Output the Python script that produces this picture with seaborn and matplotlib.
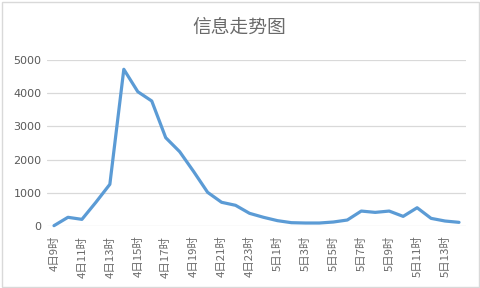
import matplotlib
matplotlib.use("Agg")
import matplotlib.pyplot as plt
import seaborn as sns
import pandas as pd
from matplotlib.patches import Rectangle

categories = (["4日%d时" % h for h in range(9, 24)] +
              ["5日%d时" % h for h in range(0, 15)])
values = [10, 262, 200, 714, 1256, 4720, 4045, 3765, 2660, 2238,
          1640, 1014, 714, 623, 382, 262, 161, 100, 90, 90,
          120, 180, 450, 410, 450, 290, 550, 230, 150, 110]
title = "信息走势图"
yticks = [0, 1000, 2000, 3000, 4000, 5000]

sns.set_theme(style="white")
plt.rcParams['font.family'] = ['Noto Sans CJK SC', 'DejaVu Sans']

df = pd.DataFrame({"idx": range(len(categories)), "v": values})

fig = plt.figure(figsize=(4.8, 2.88), dpi=100)
ax = fig.add_axes([47/480, 1-226/288, (466-47)/480, (226-60)/288])

for y in yticks:
    ax.axhline(y, color="#D9D9D9", lw=0.9, zorder=0)

sns.lineplot(data=df, x="idx", y="v", ax=ax, color="#5B9BD5", lw=2.3,
             zorder=3, clip_on=False)

ax.set_xlim(-0.5, len(categories) - 0.5)
ax.set_ylim(0, 5000)
ax.set_yticks(yticks)
ax.set_yticklabels([str(y) for y in yticks], fontsize=8, color="#595959",
                   family=['DejaVu Sans'])
ax.set_xticks(range(0, len(categories), 2))
ax.set_xticklabels(categories[::2], rotation=90, fontsize=8.2,
                   color="#6A6A6A", va="top", ha="center")
ax.tick_params(axis="both", length=0, pad=4)
ax.tick_params(axis="x", pad=7)
ax.set_xlabel("")
ax.set_ylabel("")
for s in ax.spines.values():
    s.set_visible(False)

fig.text(239/480, 1-27/288, title, ha="center", va="center",
         fontsize=13.5, color="#6A6A6A", fontweight="light")

fig.patches.append(Rectangle((1.5/480, 1.5/288), 1-3/480, 1-3/288,
                             transform=fig.transFigure, fill=False,
                             edgecolor="#D9D9D9", lw=1))

fig.savefig("out.png", dpi=100)
